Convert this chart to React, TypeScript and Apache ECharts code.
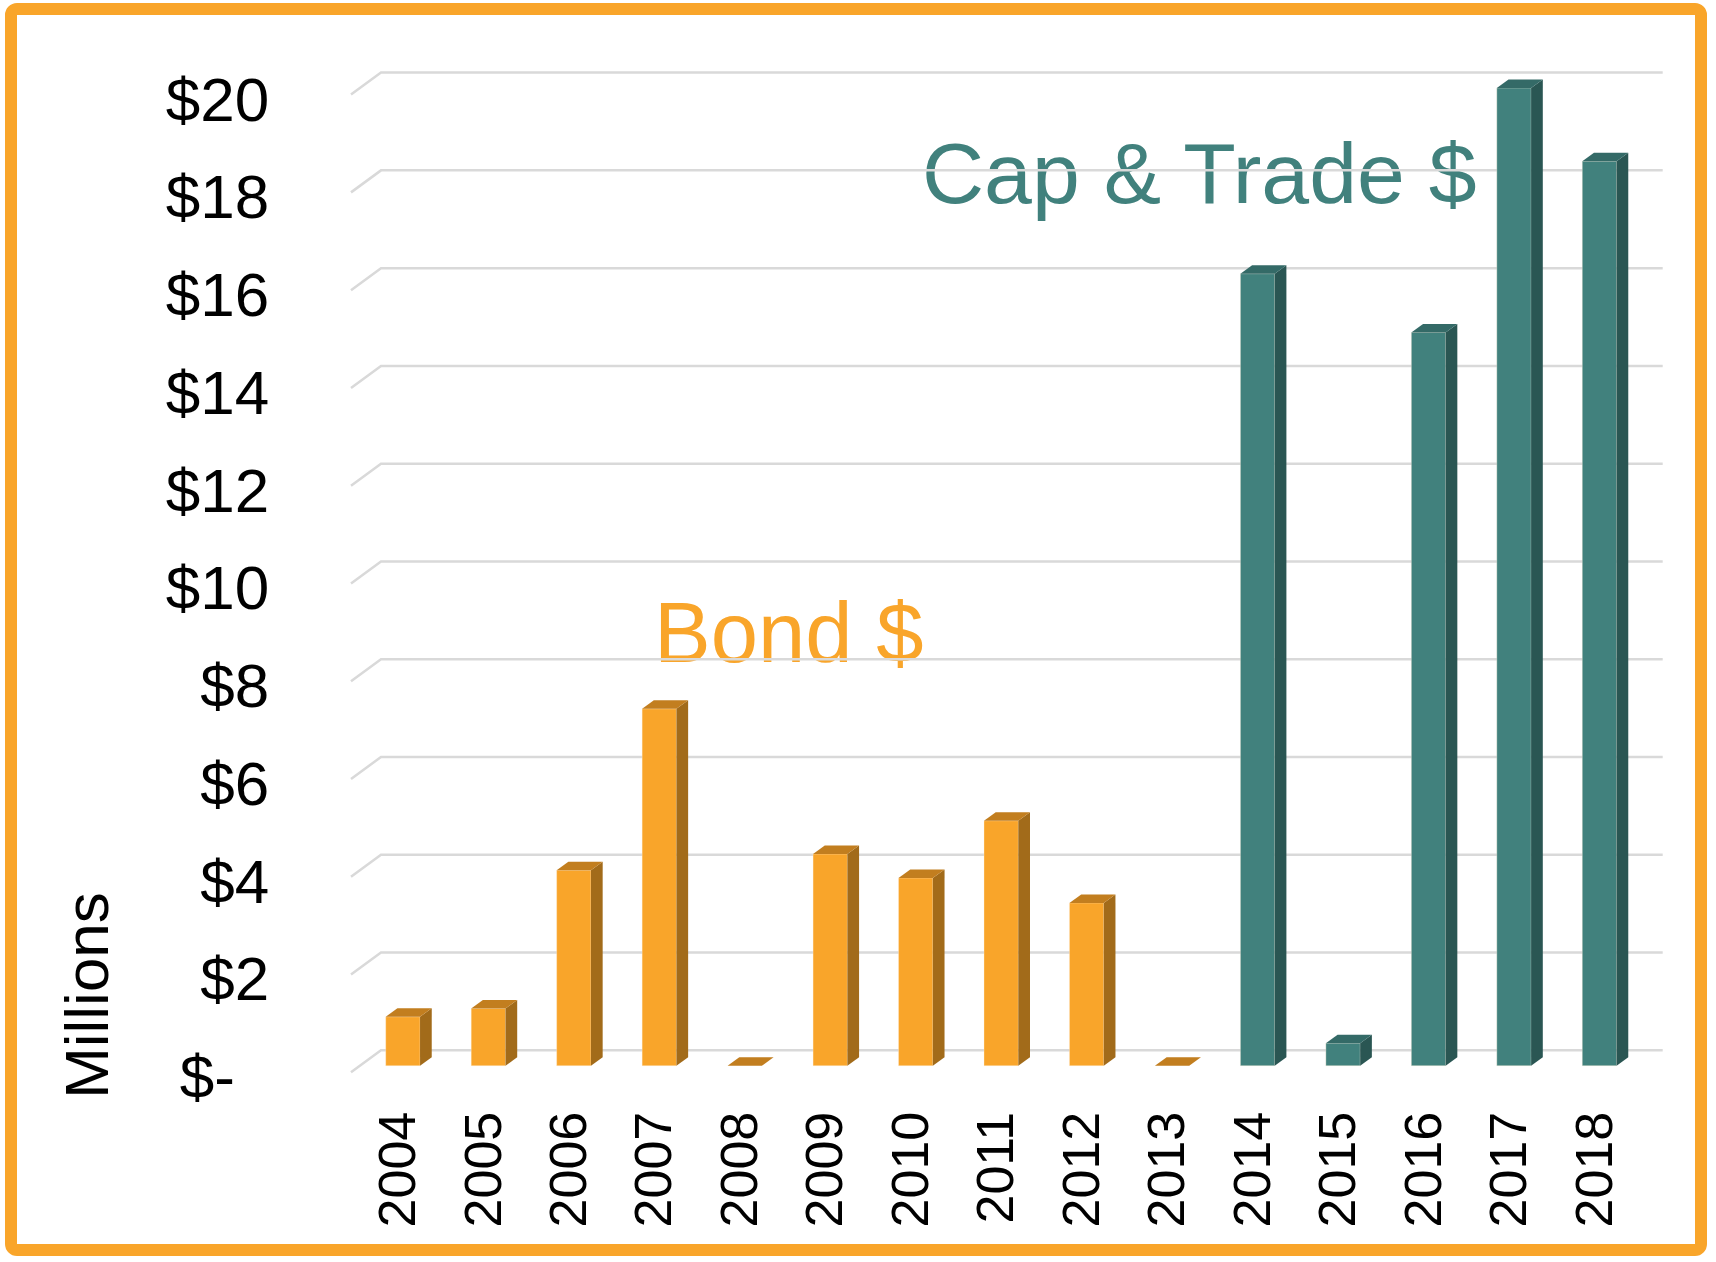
import React, { useEffect, useRef } from "react";
import * as echarts from "echarts";

const years = ["2004", "2005", "2006", "2007", "2008", "2009", "2010", "2011", "2012", "2013", "2014", "2015", "2016", "2017", "2018"];
const bondValues: (number | null)[] = [1.0, 1.17, 4.0, 7.3, 0, 4.33, 3.84, 5.01, 3.33, 0, null, null, null, null, null];
const capTradeValues: (number | null)[] = [null, null, null, null, null, null, null, null, null, null, 16.2, 0.46, 15.0, 20.0, 18.5];
const yTicks = [0, 2, 4, 6, 8, 10, 12, 14, 16, 18, 20];

const FONT = "'Liberation Sans', Arial, sans-serif";
const ORANGE = { front: "#F9A52A", side: "#A26B1A", top: "#C27E1F" };
const TEAL = { front: "#41817D", side: "#2A5653", top: "#346A67" };

function barRenderer(colors: { front: string; side: string; top: string }) {
  return (params: any, api: any) => {
    const v = api.value(1);
    if (v == null || isNaN(v)) return null;
    const i = api.value(0);
    const base = api.coord([i, 0]);
    const topP = api.coord([i, v]);
    const cx = base[0];
    const y0 = base[1] - 11;
    const y1 = topP[1] - 11;
    const fl = cx - 11.3;
    const fr = cx + 23;
    const dx = 11.7;
    const dy = -8.5;
    const children: any[] = [];
    if (y0 - y1 > 0.1) {
      children.push({
        type: "rect",
        shape: { x: fl, y: y1, width: fr - fl, height: y0 - y1 },
        style: { fill: colors.front, stroke: "rgba(255,240,220,0.35)", lineWidth: 1 },
      });
      children.push({
        type: "polygon",
        shape: { points: [[fr, y1], [fr + dx, y1 + dy], [fr + dx, y0 + dy], [fr, y0]] },
        style: { fill: colors.side },
      });
    }
    children.push({
      type: "polygon",
      shape: { points: [[fl, y1], [fl + dx, y1 + dy], [fr + dx, y1 + dy], [fr, y1]] },
      style: { fill: colors.top },
    });
    return { type: "group", children };
  };
}

export default function App() {
  const ref = useRef<HTMLDivElement>(null);
  useEffect(() => {
    if (!ref.current) return;
    const chart = echarts.init(ref.current, undefined, { renderer: "svg" });
    const bondData = years.map((_, i) => [i, bondValues[i]]).filter((d) => d[1] != null);
    const capData = years.map((_, i) => [i, capTradeValues[i]]).filter((d) => d[1] != null);
    const gridData = yTicks.map((v) => [0, v]);
    chart.setOption({
      animation: false,
      backgroundColor: "#FFFFFF",
      grid: {
        left: 354.3,
        right: 79.7,
        top: 99,
        bottom: 185.3,
        containLabel: false,
        outerBoundsMode: "none",
      },
      xAxis: {
        type: "category",
        data: years,
        axisLine: { show: false },
        axisTick: { show: false },
        splitLine: { show: false },
        axisLabel: {
          interval: 0,
          rotate: 90,
          margin: 35,
          fontSize: 52,
          fontFamily: FONT,
          color: "#000000",
        },
      },
      yAxis: {
        type: "value",
        min: 0,
        max: 20,
        interval: 2,
        axisLine: { show: false },
        axisTick: { show: false },
        splitLine: { show: false },
        axisLabel: {
          margin: 85,
          fontSize: 62,
          fontFamily: FONT,
          color: "#000000",
          formatter: (v: number) => (v === 0 ? "$-\u00A0\u00A0" : "$" + v),
        },
      },
      series: [
        {
          type: "custom",
          name: "grid",
          silent: true,
          clip: false,
          z: 1,
          data: gridData,
          encode: { x: 0, y: 1 },
          renderItem: (params: any, api: any) => {
            const v = api.value(1);
            const p = api.coord([0, v]);
            const cs = params.coordSys;
            const left = cs.x;
            const right = cs.x + cs.width;
            const yb = p[1] - 26.4;
            const yf = p[1] - 4.4;
            return {
              type: "polyline",
              shape: { points: [[left - 3.3, yf], [left + 26.7, yb], [right + 26.4, yb]] },
              style: { stroke: "#D9D9D9", lineWidth: 2.5, fill: "none" },
            };
          },
        },
        {
          type: "custom",
          name: "Bond $",
          clip: false,
          z: 2,
          data: bondData,
          encode: { x: 0, y: 1 },
          renderItem: barRenderer(ORANGE),
        },
        {
          type: "custom",
          name: "Cap & Trade $",
          clip: false,
          z: 2,
          data: capData,
          encode: { x: 0, y: 1 },
          renderItem: barRenderer(TEAL),
        },
      ],
      graphic: [
        {
          type: "rect",
          z: 10,
          shape: { x: 11, y: 9, width: 1690, height: 1241, r: 6 },
          style: { fill: "none", stroke: "#F9A52A", lineWidth: 12 },
        },
        {
          type: "text",
          x: 922,
          y: 172.5,
          style: {
            text: "Cap & Trade $",
            fontSize: 86,
            fontFamily: FONT,
            fill: TEAL.front,
            align: "left",
            verticalAlign: "middle",
          },
        },
        {
          type: "text",
          x: 654,
          y: 632.2,
          style: {
            text: "Bond $",
            fontSize: 85,
            fontFamily: FONT,
            fill: ORANGE.front,
            align: "left",
            verticalAlign: "middle",
          },
        },
        {
          type: "text",
          x: 86.8,
          y: 995.5,
          rotation: Math.PI / 2,
          style: {
            text: "Millions",
            fontSize: 62,
            fontFamily: FONT,
            fill: "#000000",
            align: "center",
            verticalAlign: "middle",
          },
        },
      ],
    });
    return () => chart.dispose();
  }, []);
  return (
    <div
      ref={ref}
      style={{ position: "fixed", left: 0, top: 0, width: 1716, height: 1262, background: "#FFFFFF" }}
    />
  );
}
